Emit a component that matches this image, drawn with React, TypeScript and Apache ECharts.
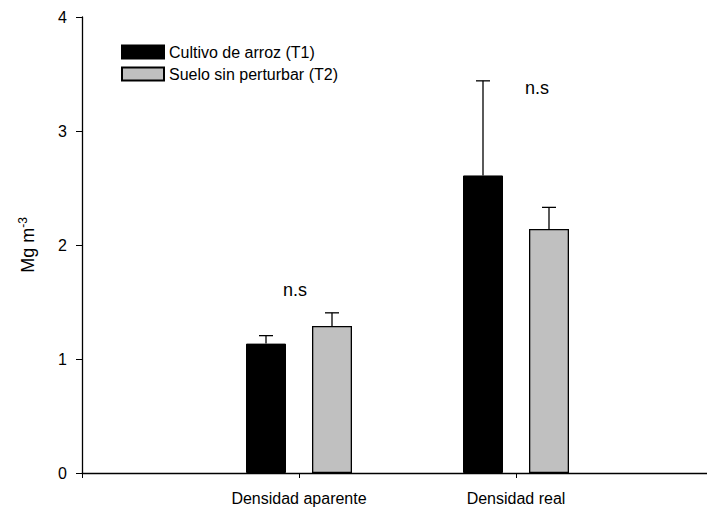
import React, { useEffect, useRef } from "react";
import * as echarts from "echarts";

const categories = ["", "Densidad aparente", "Densidad real", ""];
const seriesNames = ["Cultivo de arroz (T1)", "Suelo sin perturbar (T2)"];
const t1Values = [null, 1.135, 2.61, null];
const t2Values = [null, 1.29, 2.14, null];
const t1ErrTop = [null, 1.205, 3.44, null];
const t2ErrTop = [null, 1.405, 2.33, null];
const yTicks = [0, 1, 2, 3, 4];
const nsLabels = [
  { cat: 1, y: 1.605, dx: -4, text: "n.s" },
  { cat: 2, y: 3.38, dx: 21, text: "n.s" },
];

const BAR_W = 40;
const BAR_GAP = 26;
const HALF = (BAR_W + BAR_GAP) / 2;
const FONT = "Liberation Sans, Arial, sans-serif";

function errorData(values: (number | null)[], tops: (number | null)[]) {
  const out: any[] = [];
  values.forEach((v, i) => {
    if (v != null && tops[i] != null) out.push([i, v, tops[i]]);
  });
  return out;
}

function errorSeries(values: (number | null)[], tops: (number | null)[], dx: number) {
  return {
    type: "custom",
    silent: true,
    z: 5,
    data: errorData(values, tops),
    renderItem: (params: any, api: any) => {
      const base = api.coord([api.value(0), api.value(1)]);
      const top = api.coord([api.value(0), api.value(2)]);
      const x = base[0] + dx;
      return {
        type: "group",
        children: [
          { type: "line", shape: { x1: x, y1: base[1], x2: x, y2: top[1] }, style: { stroke: "#000", lineWidth: 1.3 } },
          { type: "line", shape: { x1: x - 7, y1: top[1], x2: x + 7, y2: top[1] }, style: { stroke: "#000", lineWidth: 1.3 } },
        ],
      };
    },
  };
}

export default function App() {
  const ref = useRef<HTMLDivElement>(null);
  useEffect(() => {
    if (!ref.current) return;
    const chart = echarts.init(ref.current, undefined, { renderer: "svg" });
    chart.setOption({
      animation: false,
      backgroundColor: "#fff",
      textStyle: { fontFamily: FONT },
      grid: { left: 82, top: 17, bottom: 36, width: 651 },
      legend: {
        orient: "vertical",
        left: 121,
        top: 44,
        padding: 0,
        itemWidth: 42,
        itemHeight: 13,
        itemGap: 6,
        icon: "rect",
        textStyle: { fontSize: 16, lineHeight: 13, color: "#000", fontFamily: FONT },
        data: seriesNames,
      },
      xAxis: {
        type: "category",
        data: categories,
        boundaryGap: false,
        axisLine: { lineStyle: { color: "#000", width: 1.3 } },
        axisTick: { show: true, length: 5, lineStyle: { color: "#000" } },
        axisLabel: { color: "#000", fontSize: 16, margin: 17 },
        splitLine: { show: false },
      },
      yAxis: {
        type: "value",
        min: yTicks[0],
        max: yTicks[yTicks.length - 1],
        interval: 1,
        axisLine: { show: true, lineStyle: { color: "#000", width: 1.3 } },
        axisTick: { show: true, length: 6, lineStyle: { color: "#000" } },
        axisLabel: { color: "#000", fontSize: 16, margin: 15 },
        splitLine: { show: false },
        name: "Mg m{sup|-3}",
        nameLocation: "middle",
        nameRotate: 90,
        nameGap: 43,
        nameTextStyle: {
          color: "#000",
          fontSize: 18,
          rich: {
            sup: { fontSize: 12, verticalAlign: "top", padding: [0, 0, 10, 0] },
          },
        },
      },
      series: [
        {
          name: seriesNames[0],
          type: "bar",
          data: t1Values,
          barWidth: BAR_W,
          barGap: `${(BAR_GAP / BAR_W) * 100}%`,
          itemStyle: { color: "#000", borderColor: "#000", borderWidth: 1 },
        },
        {
          name: seriesNames[1],
          type: "bar",
          data: t2Values,
          barWidth: BAR_W,
          itemStyle: { color: "#c0c0c0", borderColor: "#000", borderWidth: 1.3 },
        },
        errorSeries(t1Values, t1ErrTop, -HALF),
        errorSeries(t2Values, t2ErrTop, HALF),
        {
          type: "custom",
          silent: true,
          data: nsLabels.map((d) => [d.cat, d.y, d.dx]),
          renderItem: (params: any, api: any) => {
            const p = api.coord([api.value(0), api.value(1)]);
            return {
              type: "text",
              x: p[0] + api.value(2),
              y: p[1],
              style: {
                text: nsLabels[params.dataIndex].text,
                fontSize: 18,
                fill: "#000",
                align: "center",
                verticalAlign: "middle",
                fontFamily: FONT,
              },
            };
          },
        },
      ],
    });
    return () => chart.dispose();
  }, []);
  return (
    <div style={{ position: "absolute", left: 0, top: 0, width: 707, height: 509, overflow: "hidden", background: "#fff" }}>
      <div ref={ref} style={{ width: 760, height: 509 }} />
    </div>
  );
}
